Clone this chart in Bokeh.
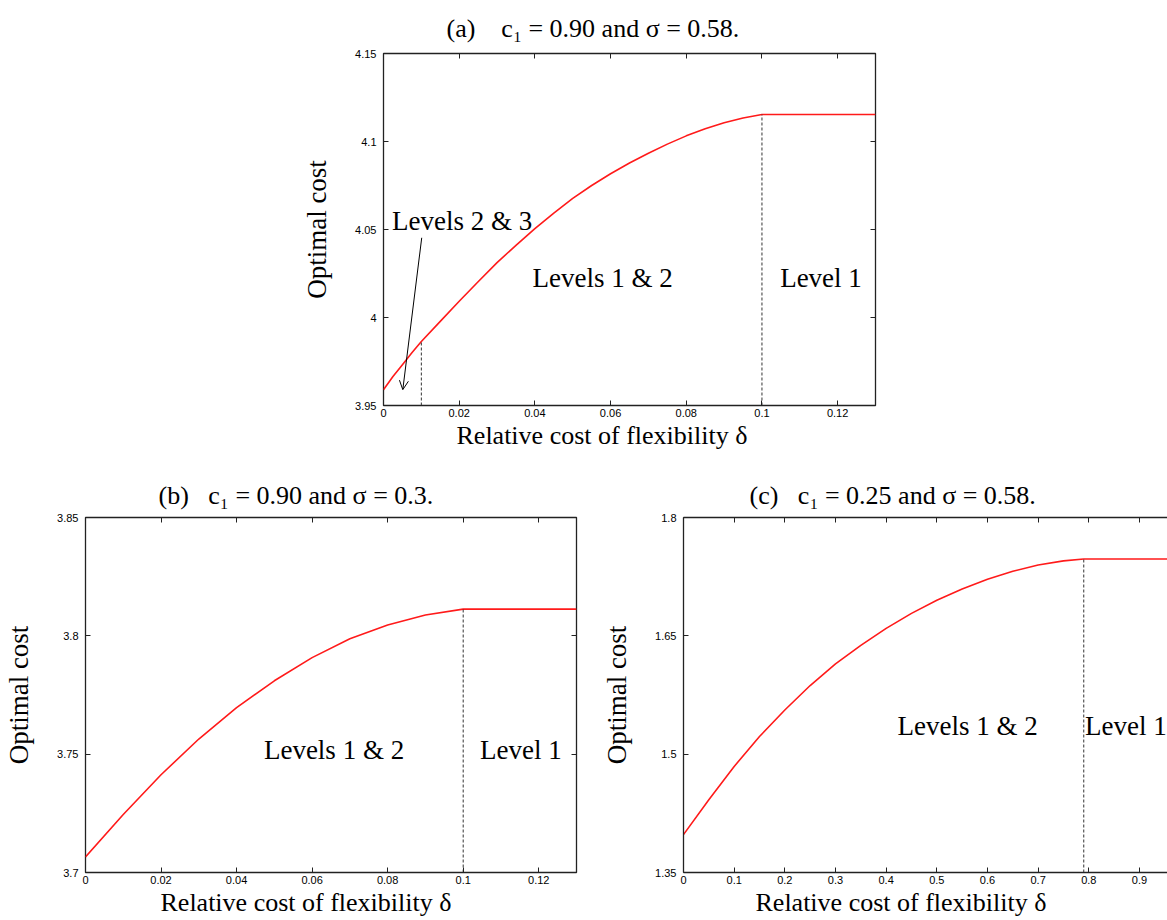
from bokeh.plotting import figure
from bokeh.models import (Range1d, FixedTicker, LinearAxis, Label, Arrow, OpenHead,
                          Spacer, Title)
from bokeh.layouts import column, row
from bokeh.embed import file_html
from bokeh.resources import INLINE

# ---------------- data ----------------
# Panel (a): c1 = 0.90, sigma = 0.58
delta_a = [0, 0.0025, 0.005, 0.0075, 0.01, 0.015, 0.02, 0.025, 0.03, 0.035, 0.04, 0.045, 0.05,
           0.055, 0.06, 0.065, 0.07, 0.075, 0.08, 0.085, 0.09, 0.095, 0.1, 0.13]
cost_a = [3.9590, 3.9665, 3.9732, 3.9800, 3.9864, 3.9978, 4.0092, 4.0203, 4.0312, 4.0410, 4.0505,
          4.0593, 4.0677, 4.0750, 4.0817, 4.0878, 4.0933, 4.0985, 4.1032, 4.1072, 4.1107, 4.1134,
          4.1153, 4.1153]
switch_a = [0.01, 0.1]
xticks_a = [0, 0.02, 0.04, 0.06, 0.08, 0.1, 0.12]
xtick_labels_a = ["0", "0.02", "0.04", "0.06", "0.08", "0.1", "0.12"]
yticks_a = [3.95, 4.0, 4.05, 4.1, 4.15]
ytick_labels_a = ["3.95", "4", "4.05", "4.1", "4.15"]
region_labels_a = ["Levels 2 & 3", "Levels 1 & 2", "Level 1"]

# Panel (b): c1 = 0.90, sigma = 0.3
delta_b = [0, 0.01, 0.02, 0.03, 0.04, 0.05, 0.06, 0.07, 0.08, 0.09, 0.1, 0.13]
cost_b = [3.7066, 3.7245, 3.7413, 3.7564, 3.7697, 3.7810, 3.7908, 3.7988, 3.8046, 3.8088,
          3.8113, 3.8113]
switch_b = [0.1]
xticks_b = [0, 0.02, 0.04, 0.06, 0.08, 0.1, 0.12]
xtick_labels_b = ["0", "0.02", "0.04", "0.06", "0.08", "0.1", "0.12"]
yticks_b = [3.7, 3.75, 3.8, 3.85]
ytick_labels_b = ["3.7", "3.75", "3.8", "3.85"]
region_labels_b = ["Levels 1 & 2", "Level 1"]

# Panel (c): c1 = 0.25, sigma = 0.58
delta_c = [0, 0.05, 0.1, 0.15, 0.2, 0.25, 0.3, 0.35, 0.4, 0.45, 0.5, 0.55, 0.6, 0.65, 0.7,
           0.75, 0.79, 1.0]
cost_c = [1.3980, 1.4423, 1.4844, 1.5224, 1.5560, 1.5870, 1.6145, 1.6380, 1.6595, 1.6785,
          1.6950, 1.7093, 1.7216, 1.7318, 1.7398, 1.7450, 1.7473, 1.7473]
switch_c = [0.79]
xticks_c = [0, 0.1, 0.2, 0.3, 0.4, 0.5, 0.6, 0.7, 0.8, 0.9, 1.0]
xtick_labels_c = ["0", "0.1", "0.2", "0.3", "0.4", "0.5", "0.6", "0.7", "0.8", "0.9", "1"]
yticks_c = [1.35, 1.5, 1.65, 1.8]
ytick_labels_c = ["1.35", "1.5", "1.65", "1.8"]
region_labels_c = ["Levels 1 & 2", "Level 1"]

titles = ["(a)\u2003c\u2081 = 0.90 and \u03c3 = 0.58.",
          "(b)\u2002\u00a0c\u2081 = 0.90 and \u03c3 = 0.3.",
          "(c)\u2002\u00a0c\u2081 = 0.25 and \u03c3 = 0.58."]
x_label = "Relative cost of flexibility \u03b4"
y_label = "Optimal cost"

SERIF = "Liberation Serif"
SANS = "Liberation Sans"
FRAME = "#222222"


def mirror_axis(ticks, with_line):
    return LinearAxis(ticker=FixedTicker(ticks=ticks), major_label_text_font_size="0px",
                      major_label_text_color=None, major_label_standoff=0,
                      major_tick_in=5, major_tick_out=0, major_tick_line_color=FRAME,
                      minor_tick_line_color=None,
                      axis_line_color=FRAME if with_line else None, axis_line_width=1.3)


def make_panel(delta, cost, xticks, xlabels, yticks, ylabels, x_end, width, height,
               borders, title, title_offset, title_standoff, xlabel_offset, switches,
               cut_right=False):
    left, right, top, bottom = borders
    p = figure(width=width, height=height, output_backend="svg", toolbar_location=None,
               x_range=Range1d(0, x_end), y_range=Range1d(yticks[0], yticks[-1]),
               min_border_left=left, min_border_right=right,
               min_border_top=top, min_border_bottom=bottom)
    p.grid.visible = False
    p.background_fill_color = "white"
    p.border_fill_color = "white"

    # title
    p.title.text = title
    p.title.align = "left"
    p.title.offset = title_offset
    p.title.text_font = SERIF
    p.title.text_font_size = "26px"
    p.title.text_font_style = "normal"
    p.title.text_color = "black"
    p.title.standoff = title_standoff

    # axes
    xl = {t: s for t, s in zip(xticks, xlabels)}
    yl = {t: s for t, s in zip(yticks, ylabels)}
    for ax, ticks, labels in ((p.xaxis[0], xticks, xl), (p.yaxis[0], yticks, yl)):
        ax.ticker = FixedTicker(ticks=ticks)
        ax.major_label_overrides = labels
        ax.major_tick_in = 5
        ax.major_tick_out = 0
        ax.major_tick_line_color = FRAME
        ax.minor_tick_line_color = None
        ax.major_label_text_font = SANS
        ax.major_label_text_font_size = "11px"
        ax.major_label_text_color = "black"
        ax.axis_line_color = FRAME if cut_right else None
        ax.axis_line_width = 1.3
    p.xaxis.major_label_standoff = 3
    p.yaxis.major_label_standoff = 7
    p.yaxis.axis_label = y_label
    p.yaxis.axis_label_text_font = SERIF
    p.yaxis.axis_label_text_font_size = "27px"
    p.yaxis.axis_label_text_font_style = "normal"
    p.yaxis.axis_label_text_color = "black"
    p.yaxis.axis_label_standoff = 20

    # mirrored ticks on top / right
    p.add_layout(mirror_axis(xticks, cut_right), "above")
    if not cut_right:
        p.add_layout(mirror_axis(yticks, False), "right")
        p.outline_line_color = FRAME
        p.outline_line_width = 1.3
    else:
        p.outline_line_color = None

    # x label placed as a title below the axis
    xt = Title(text=x_label, align="left", offset=xlabel_offset, text_font=SERIF,
               text_font_size="26px", text_font_style="normal", text_color="black",
               standoff=-2)
    p.add_layout(xt, "below")

    # the curve
    p.line(delta, cost, line_color="#ff1a1a", line_width=1.6, line_join="round")

    # switching lines
    sy = [cost[delta.index(s)] for s in switches]
    p.segment(x0=switches, y0=[yticks[0]] * len(switches), x1=switches, y1=sy,
              line_color="#333333", line_width=1, line_dash="3 2")
    return p


pa = make_panel(delta_a, cost_a, xticks_a, xtick_labels_a, yticks_a, ytick_labels_a, 0.13,
                600, 463, (93, 15, 52, 58), titles[0], 63, 22, 73, switch_a)
pb = make_panel(delta_b, cost_b, xticks_b, xtick_labels_b, yticks_b, ytick_labels_b, 0.13,
                591, 457, (85, 15, 54, 48), titles[1], 73, 16, 75, switch_b)
pc = make_panel(delta_c, cost_c, xticks_c, xtick_labels_c, yticks_c, ytick_labels_c, 0.9553,
                569, 457, (85, 0, 54, 48), titles[2], 66, 16, 72, switch_c, cut_right=True)


def region_text(p, x, y, txt):
    p.add_layout(Label(x=x, y=y, text=txt, text_font=SERIF, text_font_size="27px",
                       text_align="center", text_baseline="middle", text_color="black"))


region_text(pa, 0.0208, 4.0547, region_labels_a[0])
region_text(pa, 0.0579, 4.0222, region_labels_a[1])
region_text(pa, 0.1156, 4.0222, region_labels_a[2])
pa.add_layout(Arrow(end=OpenHead(size=9, line_width=1, line_color="black"),
                    x_start=0.0101, y_start=4.0453, x_end=0.0051, y_end=3.959,
                    line_width=1, line_color="black"))

region_text(pb, 0.0658, 3.7518, region_labels_b[0])
region_text(pb, 0.1153, 3.7518, region_labels_b[1])

region_text(pc, 0.561, 1.536, region_labels_c[0])
region_text(pc, 0.873, 1.536, region_labels_c[1])

layout = column(row(Spacer(width=290, height=463), pa),
                row(pb, Spacer(width=7, height=457), pc))

open("out.html", "w").write(file_html(layout, INLINE))
